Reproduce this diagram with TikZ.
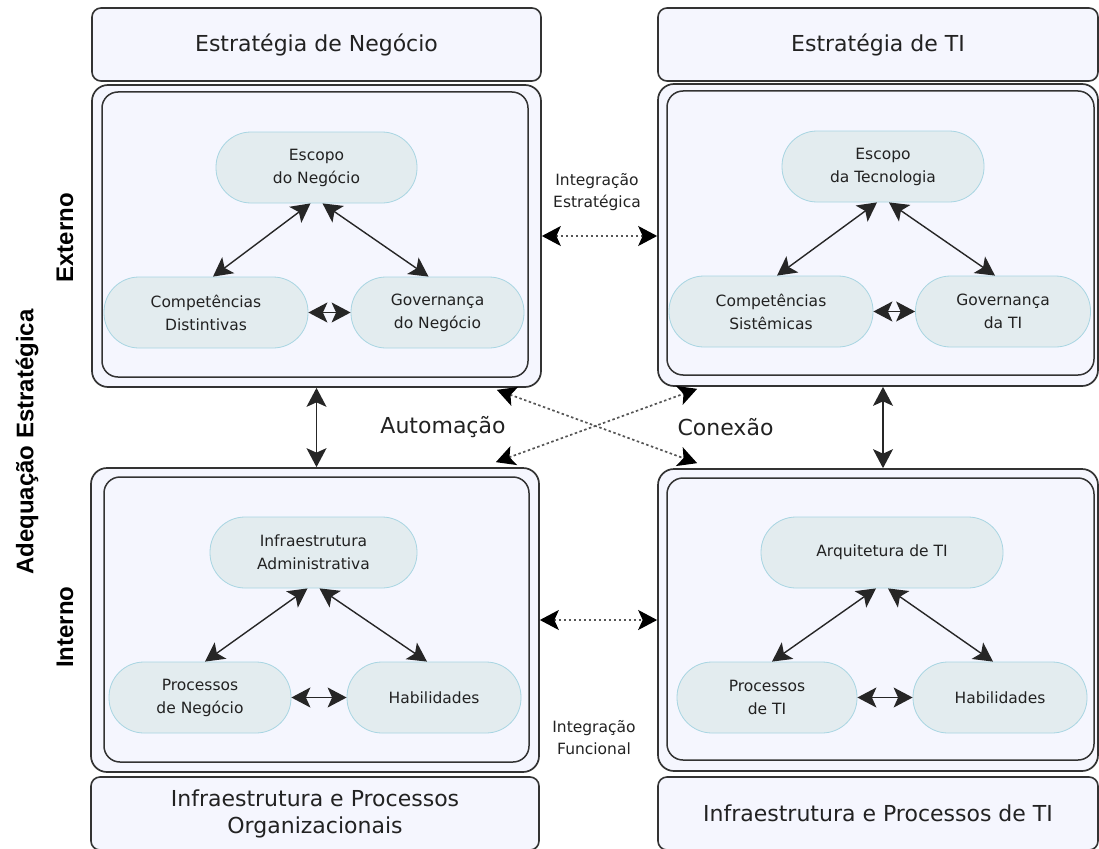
\documentclass[tikz,border=0pt]{standalone}
\usepackage{fontspec}
\setmainfont{DejaVu Sans}
\newfontfamily\labfont{Liberation Sans}
\usetikzlibrary{arrows.meta,calc}
\definecolor{boxfill}{HTML}{F5F6FE}
\definecolor{boxline}{HTML}{333333}
\definecolor{pillfill}{HTML}{E3ECEF}
\definecolor{pillline}{HTML}{A8D5E2}
\definecolor{dotline}{HTML}{555555}
\definecolor{txt}{HTML}{222222}
\tikzset{
  bighead/.tip={Stealth[length=19pt,width=20pt,inset=4.5pt]},
  dothead/.tip={Stealth[length=19pt,width=20pt,inset=4.5pt,color=black]},
  hdr/.style={draw=boxline, line width=1.6pt, fill=boxfill, rounded corners=9pt,
    minimum width=#1, minimum height=73pt, inner sep=0pt, align=center,
    text=txt, font=\fontsize{22}{27}\selectfont},
  outerbox/.style={draw=boxline, line width=1.7pt, fill=boxfill, rounded corners=16pt, inner sep=0pt},
  innerbox/.style={draw=boxline, line width=1.5pt, fill=boxfill, rounded corners=16pt, inner sep=0pt},
  pill/.style={draw=pillline, line width=0.8pt, fill=pillfill, rounded corners=35pt,
    minimum height=71pt, minimum width=#1, inner sep=2pt, align=center,
    text=txt, font=\fontsize{15.5}{23}\selectfont},
  arr/.style={arrows=bighead-bighead, line width=1.4pt, draw=black!85},
  dotarr/.style={arrows=dothead-dothead, line width=1.7pt, draw=dotline, dash pattern=on 2.5pt off 2.5pt},
  bigtxt/.style={text=txt, font=\fontsize{22}{27}\selectfont},
  smalltxt/.style={text=txt, align=center, font=\fontsize{15.5}{22}\selectfont},
  sidelab/.style={rotate=90, text=black, font=\labfont\bfseries\fontsize{24}{28}\selectfont}
}
\begin{document}
\begin{tikzpicture}[x=1pt,y=-1pt]
\useasboundingbox (0,0) rectangle (1099,848);

% headers and footers
\node[hdr=449pt] (hTL) at (316.5,44.5) {Estratégia de Negócio};
\node[hdr=440pt] (hTR) at (878,44.5) {Estratégia de TI};
\node[hdr=448pt] (fBL) at (315,813.5) {Infraestrutura e Processos\\Organizacionais};
\node[hdr=440pt] (fBR) at (878,813.5) {Infraestrutura e Processos de TI};

% outer boxes
\node[outerbox, minimum width=449pt, minimum height=302pt] (oTL) at (316.5,236) {};
\node[outerbox, minimum width=440pt, minimum height=302pt] (oTR) at (878,235) {};
\node[outerbox, minimum width=448pt, minimum height=304pt] (oBL) at (315,620) {};
\node[outerbox, minimum width=440pt, minimum height=302pt] (oBR) at (878,620) {};

% inner boxes
\node[innerbox, minimum width=426pt, minimum height=285pt] (iTL) at (315,234.5) {};
\node[innerbox, minimum width=427pt, minimum height=284pt] (iTR) at (880.5,233) {};
\node[innerbox, minimum width=425pt, minimum height=285pt] (iBL) at (316.5,619.5) {};
\node[innerbox, minimum width=427pt, minimum height=282pt] (iBR) at (880.5,619) {};

% pills top-left
\node[pill=201pt] (escN) at (316.5,167.5) {Escopo\\do Negócio};
\node[pill=204pt] (compD) at (206,312.5) {Competências\\Distintivas};
\node[pill=173pt] (govN) at (437.5,312.5) {Governança\\do Negócio};
% pills top-right
\node[pill=202pt] (escT) at (883,166.5) {Escopo\\da Tecnologia};
\node[pill=204pt] (compS) at (771,311.5) {Competências\\Sistêmicas};
\node[pill=175pt] (govT) at (1003,311.5) {Governança\\da TI};
% pills bottom-left
\node[pill=207pt] (infA) at (313.5,552.5) {Infraestrutura\\Administrativa};
\node[pill=182pt] (procN) at (200,697.5) {Processos\\de Negócio};
\node[pill=174pt] (habN) at (434,697.5) {Habilidades};
% pills bottom-right
\node[pill=242pt] (arqT) at (882,552.5) {Arquitetura de TI};
\node[pill=180pt] (procT) at (767,697.5) {Processos\\de TI};
\node[pill=174pt] (habT) at (1000,697.5) {Habilidades};

% triangle arrows
\draw[arr] ([xshift=-6pt]escN.south) -- ([xshift=7pt]compD.north);
\draw[arr] ([xshift=6pt]escN.south) -- ([xshift=-9pt]govN.north);
\draw[arr] (compD.east) -- (govN.west);

\draw[arr] ([xshift=-6pt]escT.south) -- ([xshift=6pt]compS.north);
\draw[arr] ([xshift=6pt]escT.south) -- ([xshift=-8pt]govT.north);
\draw[arr] (compS.east) -- (govT.west);

\draw[arr] ([xshift=-6pt]infA.south) -- ([xshift=5pt]procN.north);
\draw[arr] ([xshift=6pt]infA.south) -- ([xshift=-7pt]habN.north);
\draw[arr] (procN.east) -- (habN.west);

\draw[arr] ([xshift=-6pt]arqT.south) -- ([xshift=5pt]procT.north);
\draw[arr] ([xshift=6pt]arqT.south) -- ([xshift=-7pt]habT.north);
\draw[arr] (procT.east) -- (habT.west);

% vertical arrows between external and internal
\draw[arr] (oTL.south) -- (oTL.south |- oBL.north);
\draw[arr] ([xshift=5pt]oTR.south) -- ([xshift=5pt]oTR.south |- oBR.north);

% dotted integration arrows
\draw[dotarr] (oTL.east) -- (oTL.east -| oTR.west);
\draw[dotarr] (oBL.east) -- (oBL.east -| oBR.west);
\draw[dotarr] ($(oTL.south east)+(-45,2)$) -- ($(oBR.north west)+(40,-5)$);
\draw[dotarr] ($(oBL.north east)+(-44,-5)$) -- ($(oTR.south west)+(40,2)$);

% labels
\node[bigtxt] (auto) at (443,427) {Automação};
\node[bigtxt] (conx) at (725.5,427) {Conexão};
\node[smalltxt] (intE) at (597,192) {Integração\\Estratégica};
\node[smalltxt] (intF) at (594,737.5) {Integração\\Funcional};
\node[sidelab] (ext) at (65,238) {Externo};
\node[sidelab] (int) at (65,627) {Interno};
\node[sidelab] (adq) at (27,442) {Adequação Estratégica};
\end{tikzpicture}
\end{document}
